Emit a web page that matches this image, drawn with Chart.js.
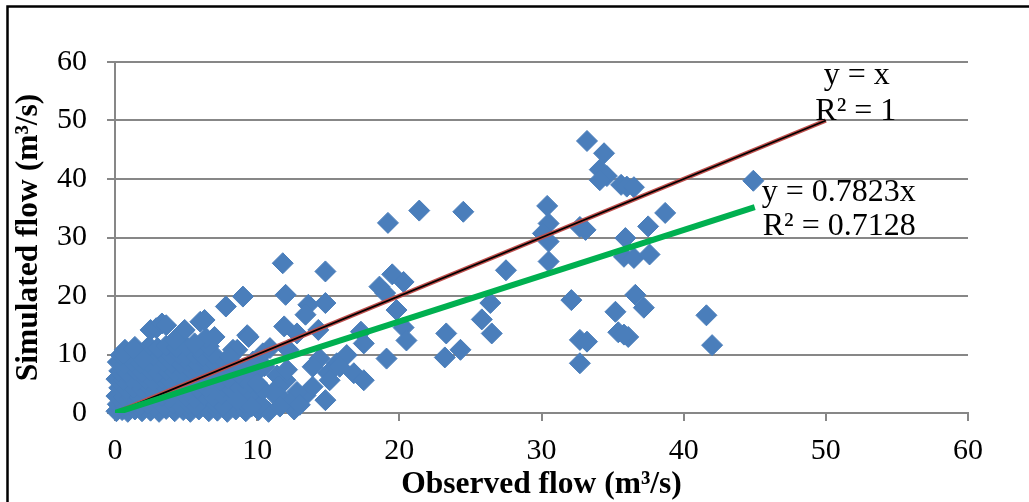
<!DOCTYPE html>
<html>
<head>
<meta charset="utf-8">
<script src="https://cdn.jsdelivr.net/npm/chart.js@4/dist/chart.umd.min.js"></script>
<style>
  html, body { margin: 0; padding: 0; background: #fff; }
  canvas { display: block; }
</style>
</head>
<body>
<canvas id="myChart" width="1029" height="502"></canvas>
<script>
const xTicks = [0, 10, 20, 30, 40, 50, 60]
const yTicks = [0, 10, 20, 30, 40, 50, 60]

// [observed, simulated] in m3/s
const flowPoints = [
  // dense cloud near the origin
  [0.1,0.3],[0.5,0.5],[0.9,0.2],[1.4,0.6],[1.9,0.3],[2.5,0.4],[3.1,0.2],[3.6,0.7],[4.2,0.3],[4.8,0.5],
  [5.3,0.2],[5.9,0.6],[6.6,0.3],[7.2,0.4],[7.9,0.2],[8.5,0.6],[9.2,0.3],[10.1,0.5],[10.8,0.2],
  [0.2,1.5],[0.7,1.2],[1.2,1.7],[1.8,1.3],[2.3,1.6],[2.9,1.4],[3.5,1.1],[4.1,1.6],[4.6,1.3],[5.2,1.5],
  [5.7,1.2],[7.1,1.5],[7.6,1.2],[9.1,1.6],[10.2,1.6],
  [0.1,2.9],[0.6,2.6],[1.1,3.0],[1.7,2.7],[2.2,3.1],[2.8,2.6],[3.3,2.9],[3.9,2.7],[4.5,3.0],[5.0,2.8],
  [5.6,2.5],[6.3,3.0],[6.9,2.8],[7.5,3.1],[9.4,2.9],
  [0.3,4.3],[0.8,4.0],[1.3,4.4],[1.9,4.1],[2.4,4.5],[3.0,4.0],[3.6,4.3],[4.1,4.1],[4.7,4.4],[5.2,3.9],
  [5.8,4.2],[6.4,4.5],[7.0,4.1],[7.6,4.4],[8.2,4.0],[8.8,4.3],
  [0.1,5.8],[0.6,5.5],[1.1,5.9],[1.6,5.6],[2.2,5.8],[2.7,5.4],[3.3,5.9],[3.8,5.6],[4.4,5.7],[4.9,5.5],
  [5.6,5.9],[6.2,5.6],[6.8,5.8],[7.4,5.5],[8.0,5.9],
  [0.3,7.2],[0.8,6.9],[1.4,7.3],[1.9,7.0],[2.5,7.2],[3.0,6.9],[3.6,7.3],[4.2,7.0],[4.7,7.2],[5.3,7.4],
  [5.9,7.0],[6.5,7.3],[7.2,6.9],[7.8,7.2],[8.6,7.0],[9.2,7.4],[10.5,8.0],
  [0.2,8.7],[0.7,8.4],[1.2,8.8],[1.8,8.5],[2.3,8.7],[2.9,8.4],[3.4,8.8],[4.0,8.6],[4.6,8.4],[5.1,8.8],
  [5.7,8.5],[6.4,8.7],[7.0,8.4],[7.7,8.8],
  [0.4,9.9],[1.0,10.1],[1.6,9.7],[2.2,10.0],[2.7,9.8],[3.3,10.2],[3.9,9.9],[4.5,10.1],[5.0,9.7],[5.6,10.0],
  [6.2,9.8],[6.9,10.1],
  [2.4,11.4],[3.0,11.1],[3.6,11.5],[4.3,11.2],[5.0,11.4],[5.8,11.1],[6.6,11.4],
  [2.5,14.2],[2.9,14.5],[3.3,15.3],[3.6,15.0],[4.8,13.9],[4.9,14.2],[6.0,15.6],[6.3,15.9],[6.4,12.8],
  [7.0,13.0],[4.2,12.5],[5.6,11.9],[9.3,13.3],[8.3,10.8],[0.7,10.8],[1.4,11.3],[0.6,10.2],[1.3,10.8],
  [2.0,9.1],[7.8,18.2],
  [10.4,4.0],[12.0,5.6],[12.6,0.6],[11.4,6.4],[9.0,6.0],[9.8,6.6],[8.3,8.4],[9.7,8.8],[13.4,3.0],
  // 8 - 20
  [11.8,25.6],[14.8,24.2],[9.0,19.9],[12.0,20.2],[13.6,18.5],[14.8,18.8],[13.4,16.8],[11.9,14.8],
  [12.8,13.6],[9.4,13.0],[14.3,14.2],[17.3,13.9],[17.5,11.9],[10.9,11.1],[10.4,10.2],[8.6,10.8],
  [12.2,10.8],[16.3,9.9],[15.6,8.5],[14.4,9.3],[12.1,7.4],[13.9,7.9],[16.8,6.8],[17.5,5.6],[15.0,6.8],
  [9.5,5.1],[10.0,5.1],[11.5,4.5],[11.6,2.8],[12.8,3.6],[13.9,4.5],[14.8,2.2],[11.1,3.4],[12.3,1.7],
  [13.0,1.4],[11.6,1.1],[9.6,1.1],[8.6,2.2],[15.1,5.6],[15.8,7.9],[8.1,9.6],
  [18.6,21.6],[19.0,20.5],[19.5,23.7],[20.3,22.4],[19.8,17.6],[20.3,14.6],[20.5,12.4],[19.1,9.3],
  // 20 - 45
  [19.2,32.5],[21.4,34.6],[24.5,34.4],[27.5,24.4],
  [26.4,18.8],[25.8,16.0],[26.5,13.6],[23.3,13.6],[23.2,9.5],[24.3,10.8],
  [30.4,35.4],[30.5,32.4],[30.1,30.7],[30.5,29.3],[30.5,25.9],
  [32.1,19.3],[32.7,12.5],[33.2,12.2],[32.7,8.5],
  [32.7,31.8],[33.1,31.3],[33.2,46.5],[34.4,44.4],[34.1,41.6],[34.6,40.5],[34.1,39.8],
  [35.6,39.0],[36.0,38.7],[36.5,38.6],
  [38.7,34.2],[37.5,31.9],[35.9,29.9],[35.8,26.7],[36.5,26.5],[37.6,27.1],
  [36.6,20.2],[37.2,18.0],[35.2,17.3],[35.4,13.8],[36.1,13.0],[35.8,13.4],
  [41.6,16.7],[42.0,11.6],[44.9,39.7]
]

const oneToOneX = [0, 50]
const oneToOneY = [0, 50]
const fitX = [0, 45]
const fitY = [0, 35.2]
const oneToOneLabel = ['y = x', 'R² = 1']
const fitLabel = ['y = 0.7823x', 'R² = 0.7128']

const gridGrey = '#878787'
Chart.defaults.font.family = '"Liberation Serif", "Times New Roman", serif'
Chart.defaults.color = '#000'

const toXY = (xs, ys) => xs.map((v, i) => ({ x: v, y: ys[i] }))

const frame = {
  id: 'frame',
  beforeDraw(chart) {
    const ctx = chart.ctx
    ctx.save()
    ctx.fillStyle = '#fff'
    ctx.fillRect(0, 0, chart.width, chart.height)
    ctx.restore()
  },
  afterDraw(chart) {
    const ctx = chart.ctx
    ctx.save()
    ctx.strokeStyle = '#000'
    ctx.lineWidth = 2.5
    ctx.beginPath()
    ctx.moveTo(7.5, chart.height)
    ctx.lineTo(7.5, 6.5)
    ctx.lineTo(chart.width, 6.5)
    ctx.stroke()
    ctx.restore()
  }
}

const trendLabels = {
  id: 'trendLabels',
  afterDatasetsDraw(chart) {
    const { ctx, scales: { x, y } } = chart
    ctx.save()
    ctx.font = '32px "Liberation Serif"'
    ctx.fillStyle = '#000'
    ctx.textBaseline = 'middle'
    // 1:1 line label sits above its end
    let px = x.getPixelForValue(oneToOneX[1])
    let py = y.getPixelForValue(oneToOneY[1])
    ctx.textAlign = 'center'
    ctx.fillText(oneToOneLabel[0], px + 31, py - 45)
    ctx.fillText(oneToOneLabel[1], px + 30, py - 9)
    // fitted line label to the right of its end
    px = x.getPixelForValue(fitX[1])
    py = y.getPixelForValue(fitY[1])
    ctx.textAlign = 'left'
    ctx.fillText(fitLabel[0], px + 7, py - 14)
    ctx.fillText(fitLabel[1], px + 8, py + 20)
    ctx.restore()
  }
}

new Chart(document.getElementById('myChart'), {
  type: 'scatter',
  data: {
    datasets: [
      {
        data: toXY(fitX, fitY),
        showLine: true,
        borderColor: '#00B050',
        borderWidth: 6,
        pointRadius: 0
      },
      {
        data: toXY(oneToOneX, oneToOneY),
        showLine: true,
        borderColor: '#000',
        borderWidth: 1.8,
        pointRadius: 0
      },
      {
        data: toXY(oneToOneX, oneToOneY),
        showLine: true,
        borderColor: '#C0504D',
        borderWidth: 4.5,
        pointRadius: 0
      },
      {
        data: flowPoints.map(p => ({ x: p[0], y: p[1] })),
        pointStyle: 'rectRot',
        pointRadius: 10.5,
        backgroundColor: '#4A7EBB',
        borderColor: '#4A7EBB',
        borderWidth: 1,
        clip: false
      }
    ]
  },
  options: {
    responsive: false,
    animation: false,
    devicePixelRatio: 1,
    layout: { padding: { left: 0, top: 62, right: 61, bottom: 0 } },
    plugins: { legend: { display: false }, tooltip: { enabled: false } },
    scales: {
      x: {
        min: 0,
        max: 60,
        afterBuildTicks: s => { s.ticks = xTicks.map(v => ({ value: v })) },
        afterFit: s => { s.height = 89 },
        ticks: { padding: 12, font: { size: 30 } },
        grid: { drawOnChartArea: false, color: gridGrey, lineWidth: 2, tickLength: 8 },
        border: { color: gridGrey, width: 2 },
        title: {
          display: true,
          text: 'Observed flow (m³/s)',
          font: { size: 31.5, weight: 'bold', lineHeight: 1.1 },
          padding: { top: 0, bottom: 0 }
        }
      },
      y: {
        min: 0,
        max: 60,
        afterBuildTicks: s => { s.ticks = yTicks.map(v => ({ value: v })) },
        afterFit: s => { s.width = 115 },
        ticks: { padding: 20, font: { size: 30 } },
        grid: { color: gridGrey, lineWidth: 2, tickLength: 8 },
        border: { color: gridGrey, width: 2 },
        title: {
          display: true,
          text: 'Simulated flow (m³/s)',
          font: { size: 31.5, weight: 'bold', lineHeight: 1.1 },
          padding: { top: 12, bottom: 0 }
        }
      }
    }
  },
  plugins: [frame, trendLabels]
})
</script>
</body>
</html>
